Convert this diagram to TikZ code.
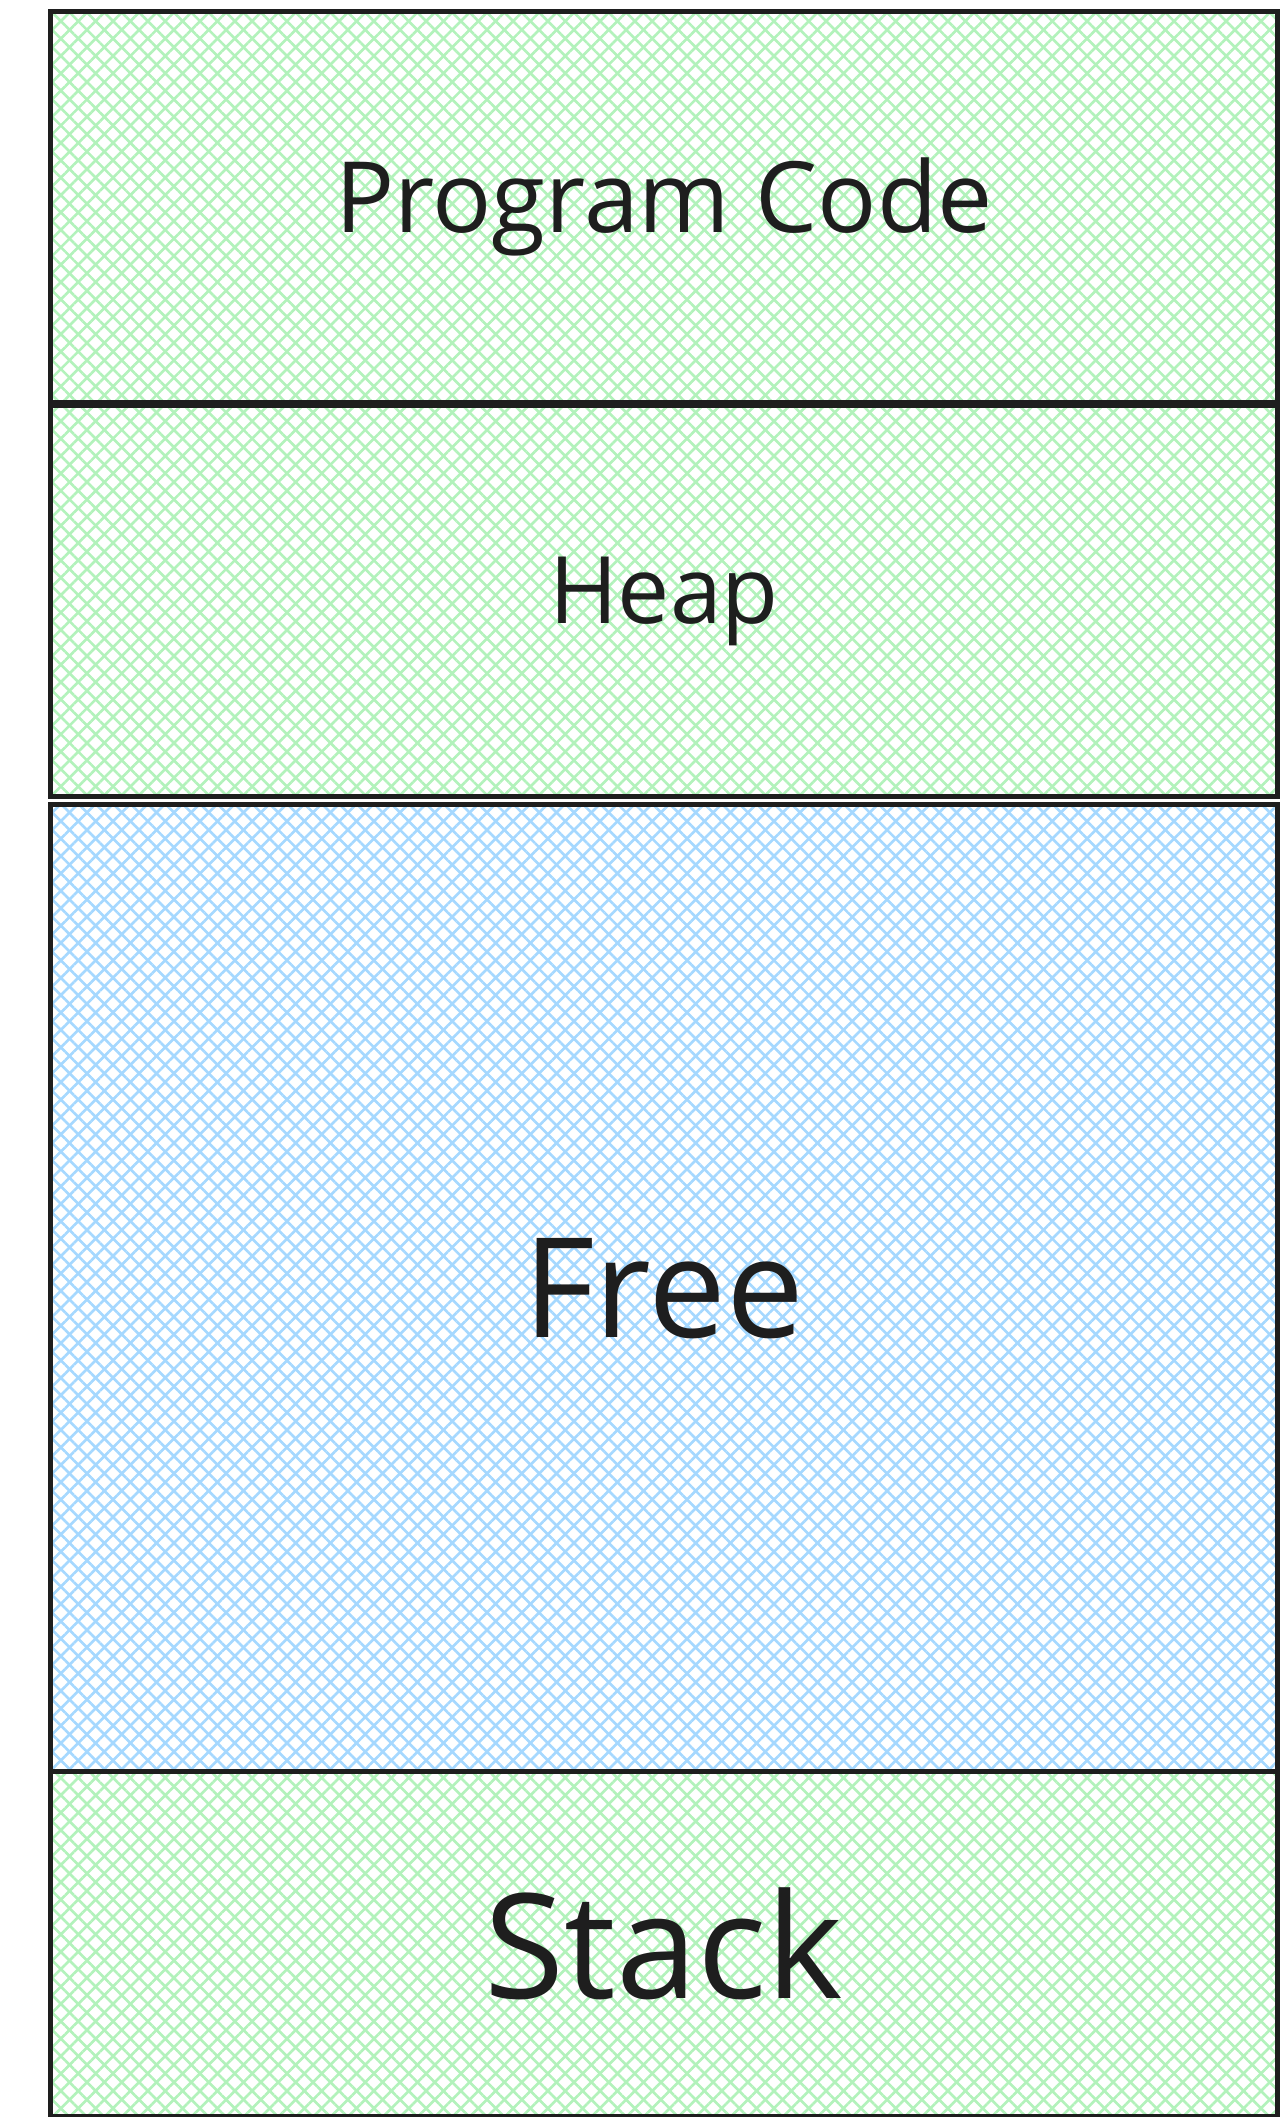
\documentclass[tikz,border=0pt]{standalone}
\usepackage{fontspec}
\setmainfont{Open Sans}
\usetikzlibrary{patterns.meta, positioning}
\definecolor{inkblack}{HTML}{1E1E1E}
\definecolor{usedgreen}{HTML}{B2F2BB}
\definecolor{freeblue}{HTML}{A5D8FF}

\begin{document}
\begin{tikzpicture}[
  x=0.02cm, y=-0.02cm,
  segbox/.style={draw=inkblack, line width=2.8pt, minimum width=24.56cm,
                 inner sep=0pt, outer sep=0pt, align=center, text=inkblack},
  xhatch/.style={
    preaction={pattern={Lines[angle=45, distance=7pt, line width=1.5pt]}, pattern color=#1},
    preaction={pattern={Lines[angle=-45, distance=7pt, line width=1.5pt]}, pattern color=#1}},
]

% Canvas
\useasboundingbox (0,0) rectangle (1281,2117);
\clip (0,0) rectangle (1281,2117);

% ============ Memory layout ============
\node[segbox, xhatch=usedgreen, minimum height=7.82cm,
      font=\fontsize{56}{64}\selectfont] (code) at (664,206.5) {Program Code};

\node[segbox, xhatch=usedgreen, minimum height=7.82cm,
      font=\fontsize{53}{60}\selectfont, below=0.08cm of code] (heap) {Heap};

\node[segbox, xhatch=freeblue, minimum height=19.34cm,
      font=\fontsize{79}{88}\selectfont, below=0.16cm of heap] (free) {Free};

% Stack runs past the bottom edge
\node[segbox, xhatch=usedgreen, minimum height=6.9cm,
      font=\fontsize{83}{92}\selectfont, below=0cm of free] (stack) {Stack};

\end{tikzpicture}
\end{document}
